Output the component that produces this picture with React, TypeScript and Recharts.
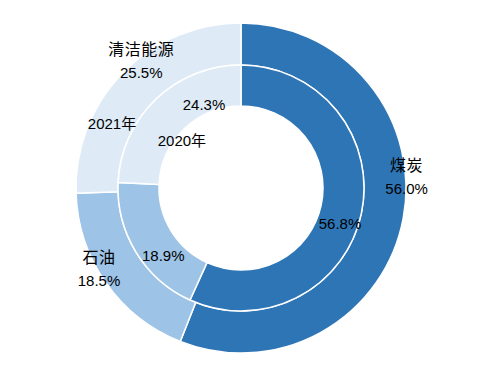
import React from 'react';
import { PieChart, Pie, Cell } from 'recharts';

const categories = ['煤炭', '石油', '清洁能源'];
const values2021 = [56.0, 18.5, 25.5];
const values2020 = [56.8, 18.9, 24.3];
const seriesNames = ['2021年', '2020年'];

const colors = ['#2E75B6', '#9DC3E6', '#DEEBF7'];

const outerData = categories.map((name, i) => ({ name, value: values2021[i] }));
const innerData = categories.map((name, i) => ({ name, value: values2020[i] }));

// label placement: [angle in degrees (counter-clockwise from 3 o'clock), distance from centre]
const outerLabelPos = [
  [4, 166],
  [-150.6, 163],
  [128, 162],
];
const innerLabelPos = [
  [-19.5, 105],
  [-139, 103],
  [114, 91],
];
const seriesNamePos = [
  [153.6, 144],
  [141, 76],
];

const FONT = '"Liberation Sans", "Noto Sans CJK SC", sans-serif';
const CJK = '"Noto Sans CJK SC", sans-serif';
const RAD = Math.PI / 180;

const polar = (cx: number, cy: number, angle: number, r: number) => ({
  x: cx + r * Math.cos(angle * RAD),
  y: cy - r * Math.sin(angle * RAD),
});

const renderOuterLabel = (props: any) => {
  const { cx, cy, index, value } = props;
  const [a, r] = outerLabelPos[index];
  const p = polar(cx, cy, a, r);
  const n = polar(cx, cy, seriesNamePos[0][0], seriesNamePos[0][1]);
  return (
    <g key={'o' + index}>
      <text x={p.x} y={p.y - 12} textAnchor="middle" dominantBaseline="central" fontSize={16} letterSpacing={0.5} fill="#000" fontFamily={CJK}>
        {categories[index]}
      </text>
      <text x={p.x} y={p.y + 12} textAnchor="middle" dominantBaseline="central" fontSize={15} fill="#000" fontFamily={FONT}>
        {value.toFixed(1)}%
      </text>
      {index === 2 && (
        <text x={n.x} y={n.y} textAnchor="middle" dominantBaseline="central" fontSize={15} fill="#000" fontFamily={FONT}>
          {seriesNames[0]}
        </text>
      )}
    </g>
  );
};

const renderInnerLabel = (props: any) => {
  const { cx, cy, index, value } = props;
  const [a, r] = innerLabelPos[index];
  const p = polar(cx, cy, a, r);
  const n = polar(cx, cy, seriesNamePos[1][0], seriesNamePos[1][1]);
  return (
    <g key={'i' + index}>
      <text x={p.x} y={p.y} textAnchor="middle" dominantBaseline="central" fontSize={15} fill="#000" fontFamily={FONT}>
        {value.toFixed(1)}%
      </text>
      {index === 2 && (
        <text x={n.x} y={n.y} textAnchor="middle" dominantBaseline="central" fontSize={15} fill="#000" fontFamily={FONT}>
          {seriesNames[1]}
        </text>
      )}
    </g>
  );
};

export default function App() {
  return (
    <div style={{ position: 'absolute', left: 0, top: 0, background: '#fff' }}>
      <PieChart width={495} height={385} margin={{ top: 0, right: 0, bottom: 0, left: 0 }}>
        <Pie
          data={outerData}
          dataKey="value"
          nameKey="name"
          cx={241}
          cy={188}
          innerRadius={123}
          outerRadius={165}
          startAngle={90}
          endAngle={-270}
          stroke="#fff"
          strokeWidth={1.5}
          label={renderOuterLabel}
          labelLine={false}
          isAnimationActive={false}
        >
          {outerData.map((d, i) => (
            <Cell key={d.name} fill={colors[i]} />
          ))}
        </Pie>
        <Pie
          data={innerData}
          dataKey="value"
          nameKey="name"
          cx={241}
          cy={188}
          innerRadius={82}
          outerRadius={123}
          startAngle={90}
          endAngle={-270}
          stroke="#fff"
          strokeWidth={1.5}
          label={renderInnerLabel}
          labelLine={false}
          isAnimationActive={false}
        >
          {innerData.map((d, i) => (
            <Cell key={d.name} fill={colors[i]} />
          ))}
        </Pie>
      </PieChart>
    </div>
  );
}
